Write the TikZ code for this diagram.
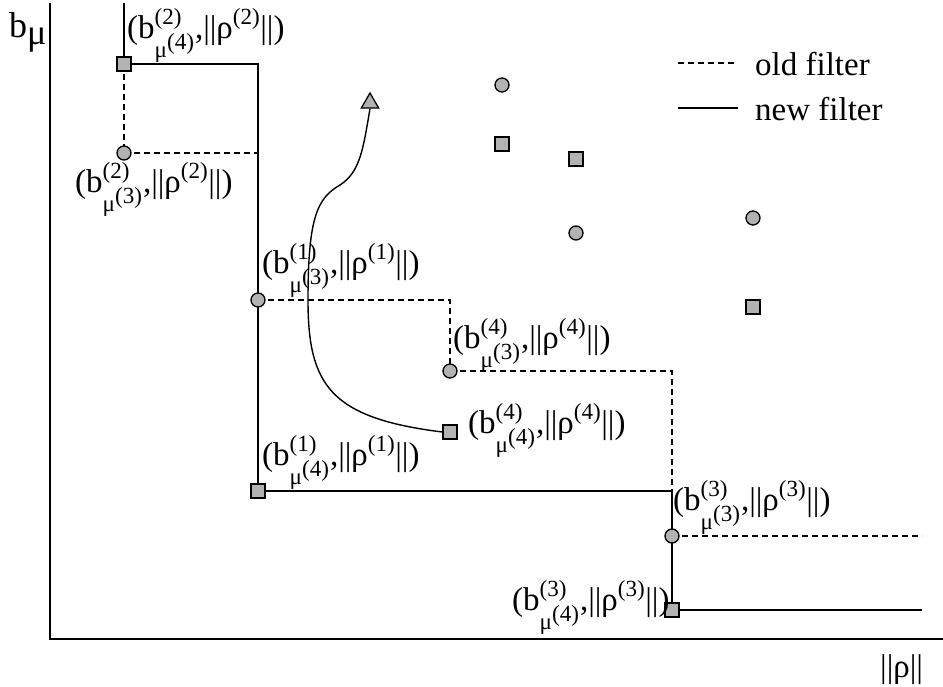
\documentclass[tikz,border=0pt]{standalone}
\usepackage{amsmath}
\usepackage{fontspec}
\setmainfont{Liberation Serif}
\usetikzlibrary{shapes.geometric,backgrounds}
\definecolor{mgray}{gray}{0.7}
\newcommand\lbl[3]{$\text{(b}^{\text{(#1)}}_{\text{μ}^{\scriptstyle\text{(#2)}}}\text{,||ρ}^{\text{(#3)}}\text{||)}$}
\begin{document}
\begin{tikzpicture}[x=1pt,y=-1pt,
  ln/.style={line width=1.4pt},
  oldf/.style={ln,dash pattern=on 6pt off 4pt},
  sq/.style={draw,fill=mgray,line width=1.3pt,minimum size=14pt,inner sep=0pt},
  circ/.style={circle,draw,fill=mgray,line width=1.3pt,minimum size=14pt,inner sep=0pt},
  tri/.style={regular polygon,regular polygon sides=3,draw,fill=mgray,line width=1.3pt,minimum size=20pt,inner sep=0pt},
  lab/.style={anchor=base west,inner sep=0pt,font=\fontsize{33}{38}\selectfont},
  leg/.style={anchor=base west,inner sep=0pt,font=\fontsize{33}{38}\selectfont}]
\useasboundingbox (0,0) rectangle (943,686);
% axes
\coordinate (ytop) at (50,3);
\coordinate (orig) at (50,639);
\coordinate (xend) at (943,639);
\draw[ln] (ytop) -- (orig) -- (xend);
\node[lab,font=\fontsize{36}{40}\selectfont] (ylab) at (9,37) {$\text{b}_{\raisebox{-2pt}{\text{μ}}}$};
\node[lab] (xlab) at (880,677) {||ρ||};
% markers
\node[sq] (s2) at (124,64) {};
\node[circ] (c2) at (124,153) {};
\node[circ] (c1) at (258,300) {};
\node[sq] (s1) at (258,491) {};
\node[circ] (c4) at (450,371) {};
\node[sq] (s4) at (450,432) {};
\node[circ] (c3) at (672,536) {};
\node[sq] (s3) at (672,610) {};
\node[tri] (t) at (370,103) {};
\node[circ] (p1) at (502,85) {};
\node[sq] (p2) at (502,144) {};
\node[sq] (p3) at (576,159) {};
\node[circ] (p4) at (576,233) {};
\node[circ] (p5) at (753,218) {};
\node[sq] (p6) at (753,307) {};
\coordinate (top) at (124,3);
\coordinate (c2r) at (258,153);
\coordinate (endold) at (922,536);
\coordinate (endnew) at (922,610);
\begin{pgfonlayer}{background}
% new filter
\draw[ln] (top) -- (s2.center);
\draw[ln] (s2.center) -| (s1.center);
\draw[ln] (s1.center) -| (s3.center);
\draw[ln] (s3.center) -- (endnew);
% old filter
\draw[oldf] (s2.center) -- (c2.center);
\draw[oldf] (c2.center) -- (c2r);
\draw[oldf] (c1.center) -| (c4.center);
\draw[oldf] (c4.center) -| (c3.center);
\draw[oldf] (c3.center) -- (endold);
\end{pgfonlayer}
% curve
\coordinate (m1) at (308,300);
\coordinate (m2) at (340,185);
\draw[ln] (s4.west) .. controls (330,418) and (308,385) .. (m1)
  .. controls (308,215) and (318,198) .. (m2)
  .. controls (360,172) and (363,150) .. (t.south);
% labels
\node[lab] (ls2) at (127,38) {\lbl{2}{4}{2}};
\node[lab] (lc2) at (75,192) {\lbl{2}{3}{2}};
\node[lab] (lc1) at (262,273) {\lbl{1}{3}{1}};
\node[lab] (lc4) at (453,348) {\lbl{4}{3}{4}};
\node[lab] (ls4) at (468,433) {\lbl{4}{4}{4}};
\node[lab] (ls1) at (262,465) {\lbl{1}{4}{1}};
\node[lab] (lc3) at (673,510) {\lbl{3}{3}{3}};
\node[lab] (ls3) at (512,610) {\lbl{3}{4}{3}};
% legend
\coordinate (la) at (678,63);
\coordinate (lb) at (737,63);
\coordinate (lc) at (678,108);
\coordinate (ld) at (738,108);
\draw[line width=1.2pt,dash pattern=on 6pt off 4pt] (la) -- (lb);
\draw[line width=1.4pt] (lc) -- (ld);
\node[leg] (lold) at (755,75) {old filter};
\node[leg] (lnew) at (755,120) {new filter};
\end{tikzpicture}
\end{document}
